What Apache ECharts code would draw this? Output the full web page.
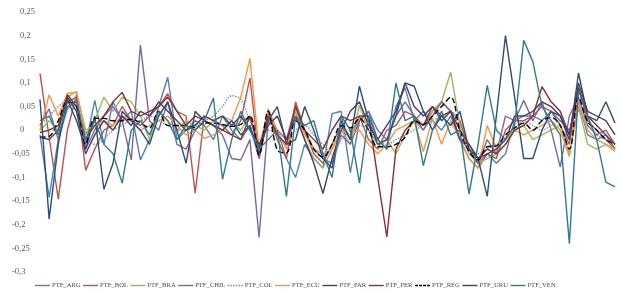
<!DOCTYPE html>
<html><head><meta charset="utf-8">
<script src="https://cdn.jsdelivr.net/npm/echarts@6/dist/echarts.min.js"></script>
<style>html,body{margin:0;padding:0;background:#fff}#c{width:621px;height:293px}</style>
</head><body><div id="c"></div>
<script>
const periods = Array.from({length:64},(_,i)=>String(i+1));
const yTicks = [-0.3,-0.25,-0.2,-0.15,-0.1,-0.05,0,0.05,0.1,0.15,0.2,0.25];
const names = ['PTF_ARG','PTF_BOL','PTF_BRA','PTF_CHIL','PTF_COL','PTF_ECU','PTF_PAR','PTF_PER','PTF_REG','PTF_URU','PTF_VEN'];

const ARG = [-0.01,-0.142,-0.02,0.045,0.065,-0.03,0.063,-0.03,0.06,0.02,0.04,-0.063,-0.02,0.05,0.112,-0.02,0.0,0.02,0.01,-0.02,0.03,0.0,-0.02,0.01,-0.06,0.03,0.0,-0.06,-0.1,-0.03,-0.06,-0.08,0.035,0.04,-0.09,0.02,0.04,-0.02,-0.04,0.05,0.09,0.02,0.04,0.02,0.0,0.03,-0.02,-0.06,-0.08,-0.05,-0.07,-0.05,0.02,0.03,0.03,0.02,0.04,0.02,0.0,0.06,-0.01,-0.02,-0.01,-0.04];
const BOL = [0.12,-0.015,-0.146,0.0,0.075,-0.085,-0.04,0.0,0.01,0.05,0.02,0.01,0.03,0.05,0.077,0.04,0.03,-0.133,0.03,0.02,0.01,-0.01,0.02,0.11,-0.06,0.04,-0.02,-0.06,0.06,0.0,-0.05,-0.07,-0.03,0.01,-0.02,0.03,-0.02,-0.04,0.0,0.01,0.04,0.03,0.01,0.04,0.06,0.04,0.02,-0.04,-0.07,-0.05,-0.06,0.0,0.02,0.02,0.03,0.05,0.04,0.01,-0.03,0.09,0.02,0.0,-0.02,-0.04];
const BRA = [0.0,0.02,0.0,0.07,0.082,-0.01,0.02,0.07,0.04,0.07,0.06,0.03,-0.02,0.04,0.02,0.0,0.02,0.01,0.0,0.02,0.03,0.02,0.0,0.03,-0.04,0.045,-0.01,-0.03,0.04,-0.02,-0.06,-0.08,-0.04,0.0,-0.03,0.053,0.0,-0.03,-0.02,-0.05,-0.01,0.02,0.0,0.04,0.06,0.123,0.01,-0.05,-0.07,-0.06,-0.05,-0.03,0.0,0.01,-0.02,-0.01,0.0,0.01,-0.05,0.05,-0.03,-0.04,-0.03,-0.045];
const CHIL = [0.01,0.045,-0.02,0.06,0.07,-0.04,0.0,0.03,0.05,0.02,-0.063,0.18,0.02,0.0,0.06,-0.03,-0.04,0.0,0.02,0.01,-0.01,-0.06,-0.063,-0.02,-0.227,0.02,0.0,-0.02,0.053,0.0,-0.04,-0.06,-0.07,-0.01,-0.03,0.02,0.04,0.0,-0.02,0.03,0.06,0.03,0.0,0.03,0.06,0.04,-0.02,-0.04,-0.07,-0.02,-0.05,0.03,0.02,0.063,0.02,0.06,0.0,-0.078,0.03,0.07,0.01,-0.01,0.0,-0.03];
const COL = [0.01,0.03,0.05,0.06,0.04,0.0,-0.03,-0.02,0.0,0.01,0.02,0.02,0.03,0.02,0.01,0.0,0.0,0.01,0.02,0.03,0.05,0.073,0.065,0.02,-0.02,0.0,-0.01,-0.03,0.0,0.01,-0.01,-0.03,-0.05,-0.02,0.0,0.01,0.0,-0.02,-0.03,-0.02,-0.01,0.0,0.01,0.02,0.03,0.04,0.0,-0.04,-0.05,-0.04,-0.03,-0.02,0.0,0.02,0.01,0.0,0.01,0.02,-0.02,0.04,0.02,-0.01,-0.02,-0.03];
const ECU = [0.0,0.075,0.03,0.078,0.08,0.0,0.01,0.02,0.01,0.03,0.02,0.0,0.01,0.02,0.03,0.01,-0.01,0.0,-0.017,-0.01,0.0,0.02,0.07,0.152,-0.04,0.045,0.0,-0.04,0.05,-0.01,-0.04,-0.05,-0.04,0.0,-0.01,0.0,-0.03,-0.05,-0.03,0.0,0.01,0.02,-0.045,0.025,-0.03,0.02,-0.02,-0.06,-0.08,0.01,-0.04,-0.02,0.0,-0.01,0.0,0.01,0.02,0.0,-0.056,0.06,0.0,-0.02,-0.03,-0.04];
const PAR = [0.065,-0.188,-0.03,0.065,0.02,-0.04,0.03,-0.125,-0.07,0.04,0.02,0.0,-0.03,0.03,0.06,0.0,-0.07,0.04,0.02,0.01,0.0,0.02,-0.01,0.01,-0.05,0.02,0.05,-0.03,-0.02,0.05,0.0,-0.06,-0.08,0.02,-0.02,0.093,0.02,-0.03,-0.02,0.03,0.1,0.093,0.04,0.0,0.03,0.01,0.04,-0.04,-0.06,-0.14,0.03,0.2,0.07,-0.06,-0.06,0.0,0.04,0.03,-0.02,0.121,0.03,0.02,0.06,0.015];
const PER = [-0.005,0.0,0.01,0.075,0.05,-0.02,0.01,0.03,0.06,0.08,0.04,0.03,0.04,0.05,0.07,0.04,0.01,0.03,0.02,0.01,0.0,-0.01,-0.02,0.03,-0.04,0.03,-0.01,-0.03,0.05,0.0,-0.02,-0.04,0.0,0.03,0.02,0.03,0.03,-0.1,-0.226,-0.04,0.0,0.02,0.01,0.05,0.03,0.04,0.0,-0.03,-0.06,-0.04,-0.05,-0.03,0.0,0.01,0.03,0.092,0.06,0.04,-0.01,0.09,0.03,0.01,-0.01,-0.03];
const REG = [-0.015,-0.013,0.02,0.06,0.05,-0.03,0.025,0.025,0.02,0.02,0.023,0.015,0.005,0.04,0.01,0.01,0.01,0.005,0.015,0.015,0.012,0.008,0.012,0.03,-0.053,0.04,-0.042,-0.048,0.02,0.0,-0.04,-0.057,-0.03,0.01,0.005,0.025,0.0,-0.035,-0.035,-0.03,-0.015,0.02,0.012,0.03,0.05,0.07,0.0,-0.045,-0.063,-0.035,-0.033,-0.01,0.005,0.015,0.0,0.02,0.027,0.01,-0.04,0.07,0.018,0.0,-0.02,-0.03];
const URU = [-0.015,-0.02,0.0,0.07,0.04,-0.05,-0.01,0.02,0.0,0.03,0.01,0.04,0.03,0.06,0.04,0.02,0.0,0.01,0.03,0.02,0.03,0.01,0.03,0.0,-0.03,0.01,0.03,-0.02,0.03,-0.02,-0.07,-0.134,-0.06,0.0,0.04,0.06,0.01,-0.02,0.01,0.04,0.1,0.05,0.03,0.05,0.02,0.04,-0.02,-0.03,-0.06,-0.05,-0.04,-0.02,0.03,0.03,0.04,0.06,0.05,0.03,-0.01,0.1,0.04,0.03,0.02,-0.01];
const VEN = [0.02,0.03,-0.01,0.05,0.06,-0.02,0.02,-0.03,-0.05,-0.112,0.0,0.02,-0.01,0.04,0.02,-0.02,0.01,0.0,0.02,0.068,-0.104,-0.02,0.04,0.0,-0.04,-0.02,0.0,-0.14,0.03,0.01,0.02,-0.05,-0.1,0.03,0.0,-0.112,0.03,-0.02,-0.04,0.1,0.02,0.03,-0.075,0.0,0.04,-0.01,0.0,-0.135,-0.03,0.095,0.0,-0.02,0.01,0.19,0.145,0.05,0.02,-0.01,-0.24,0.085,0.03,-0.02,-0.11,-0.12];

const seriesData = [ARG,BOL,BRA,CHIL,COL,ECU,PAR,PER,REG,URU,VEN];
const colors = ['#4F81BD','#C0504D','#9BBB59','#8064A2','#6F8CB0','#F79646','#2C4D75','#8B2E2C','#000000','#4D3B62','#2E7B8F'];
const lineTypes = ['solid','solid','solid','solid','dotted','solid','solid','solid','dashed','solid','solid'];

const iconPaths = {
  solid: 'path://M0,0h15v1.4h-15z',
  dashed: 'path://M0,0h3v1.4h-3z M4,0h3v1.4h-3z M8,0h3v1.4h-3z M12,0h3v1.4h-3z',
  dotted: 'path://M0,0h1.4v1.4h-1.4z M2.7,0h1.4v1.4h-1.4z M5.4,0h1.4v1.4h-1.4z M8.1,0h1.4v1.4h-1.4z M10.8,0h1.4v1.4h-1.4z M13.6,0h1.4v1.4h-1.4z'
};

const chart = echarts.init(document.getElementById('c'), null, {renderer:'canvas'});
chart.setOption({
  animation:false,
  backgroundColor:'#fff',
  color: colors,
  grid:{left:40,right:6,top:12,bottom:21,containLabel:false},
  legend:{
    bottom:-1, left:30, itemWidth:15, itemHeight:1.4, itemGap:2.5,
    textStyle:{fontFamily:'Liberation Serif',fontSize:6.6,color:'#4a4a4a',padding:[0,0,0,-3]},
    data: names.map((n,k)=>({name:n, icon:iconPaths[lineTypes[k]], itemStyle:{color:colors[k]}}))
  },
  xAxis:{type:'category',data:periods,boundaryGap:false,
    axisLine:{show:false},axisTick:{show:false},axisLabel:{show:false},splitLine:{show:false}},
  yAxis:{type:'value',min:-0.3,max:0.25,interval:0.05,
    axisLine:{show:false},axisTick:{show:false},splitLine:{show:false},
    axisLabel:{align:'left',margin:28,fontFamily:'Liberation Serif',fontSize:8.5,color:'#595959',
      formatter:function(v){
        const r=Math.round(v*100)/100;
        const s=String(r).replace('.',',');
        return r<0?'{n|'+s+'}':'{p|'+s+'}';
      },
      rich:{n:{fontFamily:'Liberation Serif',fontSize:8.5,color:'#595959'},
            p:{fontFamily:'Liberation Serif',fontSize:8.5,color:'#595959',padding:[0,0,0,8]}}
    }},
  series: names.map((n,k)=>({
    name:n,type:'line',data:seriesData[k],symbol:'none',
    smooth:(lineTypes[k]!=='solid')?0.35:false,
    lineStyle:{width:1.4,type:lineTypes[k],color:colors[k]},
    itemStyle:{color:colors[k]}
  }))
});
</script></body></html>
